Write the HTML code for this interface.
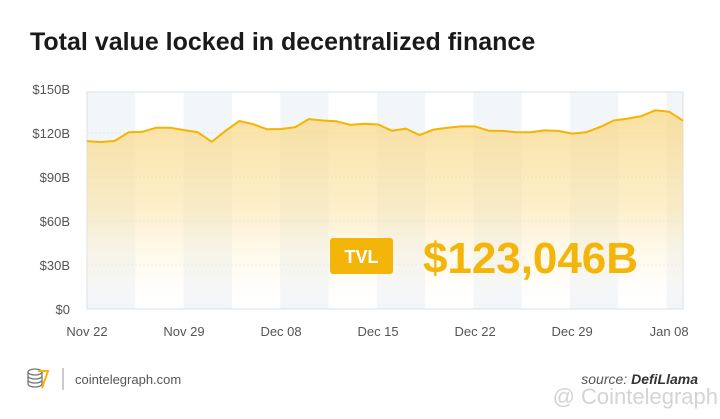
<!DOCTYPE html>
<html><head><meta charset="utf-8"><style>
body{margin:0;background:#fff;font-family:"Liberation Sans","DejaVu Sans",sans-serif}
svg{display:block}
</style></head><body>
<svg id="c" width="720" height="419" viewBox="0 0 720 419">
<defs>
<linearGradient id="g" x1="0" y1="0" x2="0" y2="1">
<stop offset="0" stop-color="#f8d680" stop-opacity="0.75"/>
<stop offset="0.5" stop-color="#fbe2a0" stop-opacity="0.55"/>
<stop offset="0.85" stop-color="#fff6e0" stop-opacity="0.25"/>
<stop offset="1" stop-color="#fff" stop-opacity="0"/>
</linearGradient>
</defs>
<text x="30" y="50" font-size="25" font-weight="bold" fill="#1a1a1a">Total value locked in decentralized finance</text>
<g id="stripes"></g>
<g id="grid"></g>
<g id="series"></g>
<g id="ylabels"></g>
<g id="xlabels"></g>
<rect x="330" y="238" width="63" height="36" rx="3" fill="#f4b50a"/>
<text x="361.5" y="263" text-anchor="middle" font-size="18" font-weight="bold" fill="#fff">TVL</text>
<text x="423" y="273" font-size="44" font-weight="bold" fill="#f4b50a" textLength="215">$123,046B</text>
<g transform="translate(28,368)">
<ellipse cx="7" cy="4" rx="7" ry="3" fill="none" stroke="#777" stroke-width="1.3"/>
<path d="M0 4v12M14 4v12M0 8a7 3 0 0 0 14 0M0 12a7 3 0 0 0 14 0M0 16a7 3 0 0 0 14 0" fill="none" stroke="#777" stroke-width="1.3"/>
<path d="M10 3h10l-6 17" fill="none" stroke="#f4b50a" stroke-width="2"/>
</g>
<line x1="63" y1="368" x2="63" y2="390" stroke="#999" stroke-width="1"/>
<text x="75" y="384" font-size="13" fill="#555">cointelegraph.com</text>
<text x="698" y="384" text-anchor="end" font-size="14" font-style="italic" fill="#555">source: <tspan font-weight="bold" fill="#333">DefiLlama</tspan></text>
<text x="718" y="404" text-anchor="end" font-size="22" fill="#d4d4d4">@ Cointelegraph</text>
</svg>
<script>
const values=[114.5,113.8,114.6,120.5,120.8,123.6,123.6,122,120.5,114,121.5,128.2,126,122.5,122.7,123.9,129.5,128.5,128,125.5,126.3,125.8,121.6,123,118.6,122.3,123.6,124.5,124.5,121.5,121.4,120.5,120.5,121.8,121.4,119.6,120.5,124,128.5,129.8,131.5,135.5,134.5,128.4];
const xTickLabels=["Nov 22","Nov 29","Dec 08","Dec 15","Dec 22","Dec 29","Jan 08"];
const xTickIndex=[0,7,14,21,28,35,42];
const yTicks=[0,30,60,90,120,150];
const yTickLabels=["$0","$30B","$60B","$90B","$120B","$150B"];
const NS="http://www.w3.org/2000/svg";
const L=87,R=683,T=92,B=309;
const x=i=>L+i*(R-L)/(values.length-1);
const y=v=>B-(v/150)*(B-89);
function mk(t,a,p){const e=document.createElementNS(NS,t);for(const k in a)e.setAttribute(k,a[k]);p.appendChild(e);return e;}
const st=document.getElementById('stripes');
const sw=48.3;
for(let k=0;L+k*sw<R;k++){
 if(k%2)continue;
 const r=mk('rect',{x:L+k*sw,y:T,width:Math.min(sw,R-(L+k*sw)),height:B-T,fill:'#f3f6f9'},st);
 
 
}
const gr=document.getElementById('grid');
const box=mk('rect',{x:L,y:T,width:R-L,height:B-T,fill:'none',stroke:'#d9e0e7','stroke-width':1},gr);


yTicks.forEach(v=>{if(v>0&&v<150){const l=mk('line',{x1:L,x2:R,y1:y(v),y2:y(v),stroke:'#e3e8ee','stroke-dasharray':'2,2'},gr);

}});
const se=document.getElementById('series');
let d='';values.forEach((v,i)=>{d+=(i?'L':'M')+x(i).toFixed(1)+' '+y(v).toFixed(1);});
const area=mk('path',{d:d+`L${R} ${B}L${L} ${B}Z`,fill:'url(#g)'},se);


const line=mk('path',{d:d,fill:'none',stroke:'#f5b400','stroke-width':2,'stroke-linejoin':'round'},se);


const yl=document.getElementById('ylabels');
yTicks.forEach((v,i)=>{const t=mk('text',{x:70,y:y(v)+5,'text-anchor':'end','font-size':13,fill:'#555'},yl);t.textContent=yTickLabels[i];

});
const xl=document.getElementById('xlabels');
xTickLabels.forEach((s,i)=>{const t=mk('text',{x:x(xTickIndex[i]),y:336,'text-anchor':'middle','font-size':13,fill:'#555'},xl);t.textContent=s;

});
</script>
</body></html>
